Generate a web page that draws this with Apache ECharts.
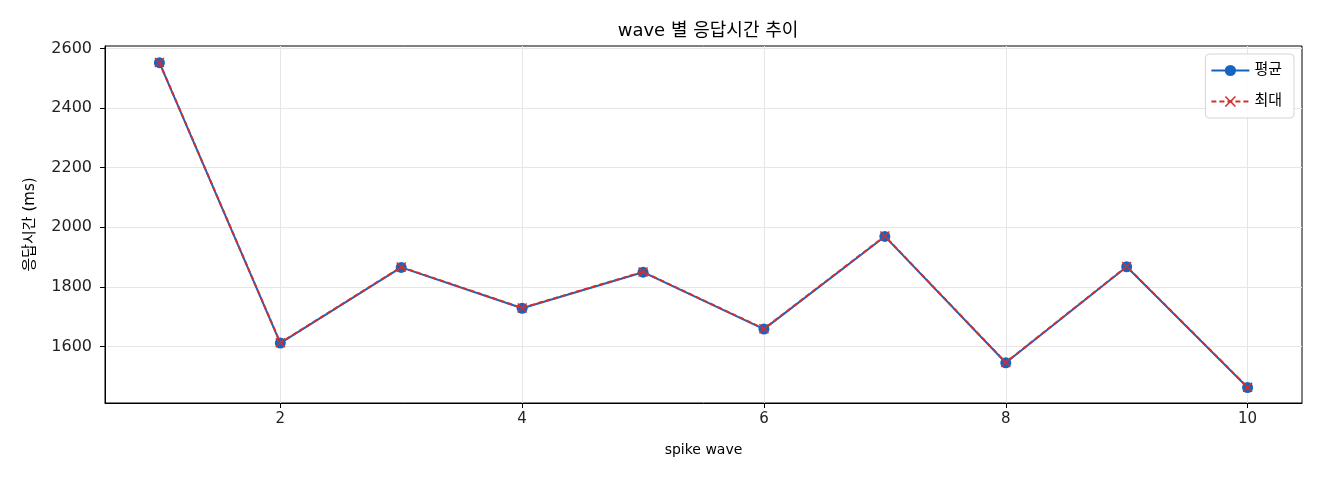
<!DOCTYPE html>
<html>
<head>
<meta charset="utf-8">
<script src="https://cdn.jsdelivr.net/npm/echarts@6/dist/echarts.min.js"></script>
<style>
  html, body { margin: 0; padding: 0; background: #fff; }
  #chart { width: 1320px; height: 480px; }
</style>
</head>
<body>
<div id="chart"></div>
<script>
// wave 번호
var waves = [1, 2, 3, 4, 5, 6, 7, 8, 9, 10];
// 평균 응답시간 (ms)
var avgMs = [2552, 1611, 1865, 1728, 1849, 1658, 1969, 1545, 1867, 1462];
// 최대 응답시간 (ms)
var maxMs = [2553, 1612, 1866, 1729, 1850, 1659, 1970, 1546, 1868, 1463];
// 축 눈금
var xTicks = [2, 4, 6, 8, 10];
var yTicks = [1600, 1800, 2000, 2200, 2400, 2600];

var FONT = '"DejaVu Sans", "Noto Sans CJK KR", sans-serif';
var X_MARK = 'path://M1,0L5,4L9,0L10,1L6,5L10,9L9,10L5,6L1,10L0,9L4,5L0,1Z';

function pairs(xs, ys) {
    var out = [];
    for (var i = 0; i < xs.length; i++) {
        out.push([xs[i], ys[i]]);
    }
    return out;
}

var option = {
    animation: false,
    backgroundColor: '#fff',
    textStyle: { fontFamily: FONT },
    title: {
        text: 'wave 별 응답시간 추이',
        left: 703,
        textAlign: 'center',
        top: 17,
        textStyle: { fontFamily: FONT, fontSize: 18, fontWeight: 'normal', color: '#000' }
    },
    legend: {
        orient: 'vertical',
        right: 26,
        top: 54,
        padding: [9, 12, 9, 5],
        itemGap: 16,
        itemWidth: 38,
        itemHeight: 14,
        borderColor: '#d5d5d5',
        borderWidth: 1,
        borderRadius: 4,
        backgroundColor: 'rgba(255,255,255,0.85)',
        textStyle: { fontFamily: FONT, fontSize: 15, color: '#000' },
        data: ['평균', '최대']
    },
    grid: {
        left: 105,
        right: 18,
        top: 46,
        bottom: 77,
        show: true,
        borderColor: '#000',
        borderWidth: 1,
        backgroundColor: 'transparent'
    },
    xAxis: {
        type: 'value',
        min: 0.55,
        max: 10.45,
        name: 'spike wave',
        nameLocation: 'middle',
        nameGap: 40,
        nameTextStyle: { fontFamily: FONT, fontSize: 14, color: '#000' },
        axisLine: { show: true, lineStyle: { color: '#000', width: 1 } },
        axisTick: { show: true, customValues: xTicks, length: 5, inside: false, lineStyle: { color: '#000' } },
        axisLabel: { customValues: xTicks, fontFamily: FONT, fontSize: 15, color: '#222', margin: 9 },
        splitLine: { show: true, lineStyle: { color: '#e6e6e6', width: 1 } }
    },
    yAxis: {
        type: 'value',
        min: 1410,
        max: 2608,
        name: '응답시간 (ms)',
        nameLocation: 'middle',
        nameGap: 67,
        nameTextStyle: { fontFamily: FONT, fontSize: 15, color: '#000' },
        axisLine: { show: true, lineStyle: { color: '#000', width: 1 } },
        axisTick: { show: true, customValues: yTicks, length: 5, inside: false, lineStyle: { color: '#000' } },
        axisLabel: {
            customValues: yTicks,
            fontFamily: FONT,
            fontSize: 16,
            color: '#222',
            margin: 13,
            formatter: function (v) { return String(v); }
        },
        splitLine: { show: true, lineStyle: { color: '#e6e6e6', width: 1 } }
    },
    series: [
        {
            name: '평균',
            type: 'line',
            data: pairs(waves, avgMs),
            symbol: 'circle',
            symbolSize: 11,
            lineStyle: { color: '#1565C0', width: 2 },
            itemStyle: { color: '#1565C0' },
            z: 2
        },
        {
            name: '최대',
            type: 'line',
            data: pairs(waves, maxMs),
            symbol: X_MARK,
            symbolSize: 10,
            lineStyle: { color: '#D32F2F', width: 2, type: [5, 3] },
            itemStyle: { color: '#D32F2F' },
            z: 3
        }
    ]
};

var chart = echarts.init(document.getElementById('chart'));
chart.setOption(option);
window.addEventListener('resize', function () {
    chart.resize();
});
</script>
</body>
</html>
